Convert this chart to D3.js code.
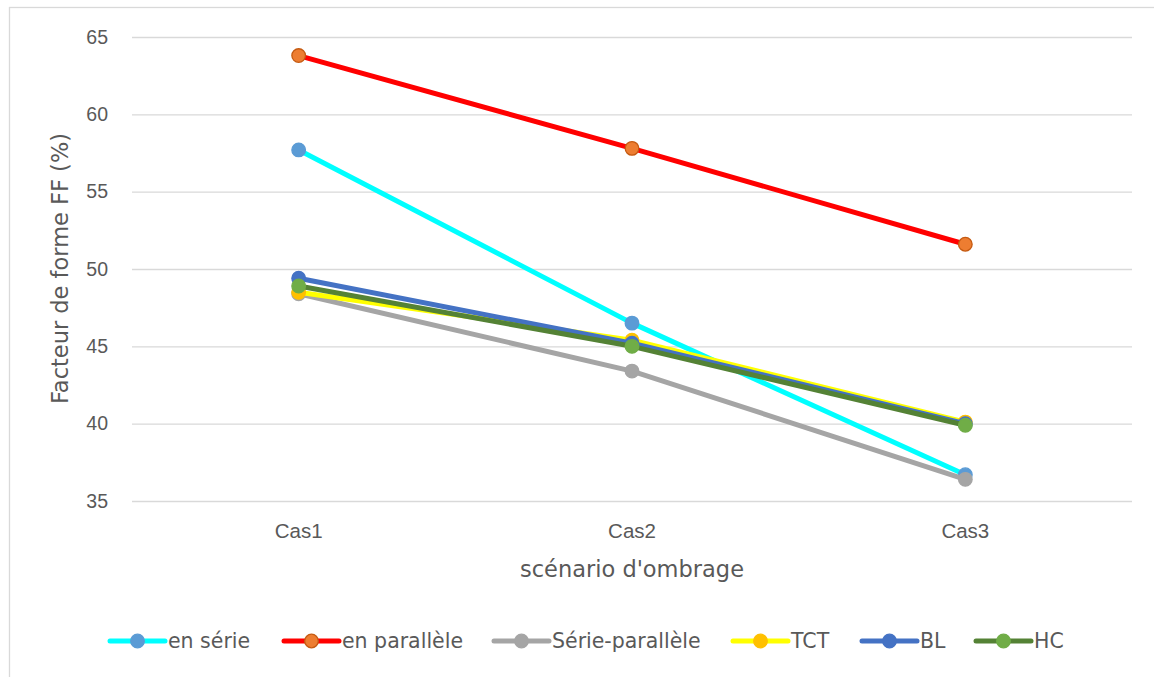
<!DOCTYPE html>
<html>
<head>
<meta charset="utf-8">
<script src="https://cdn.jsdelivr.net/npm/d3@7"></script>
<style>
  html, body { margin: 0; padding: 0; background: #fff; }
  svg { display: block; font-family: "DejaVu Sans", "Noto Sans", sans-serif; }
</style>
</head>
<body>
<svg id="chart" width="1154" height="677"></svg>
<script>
// Scenarios and fill-factor values (%) per array configuration
const categories = ["Cas1", "Cas2", "Cas3"];
const enSerie = [57.7, 46.5, 36.7];
const enParallele = [63.8, 57.8, 51.6];
const serieParallele = [48.4, 43.4, 36.4];
const tct = [48.5, 45.4, 40.1];
const bl = [49.4, 45.2, 40.0];
const hc = [48.9, 45.0, 39.9];
const yTicks = [35, 40, 45, 50, 55, 60, 65];

const seriesNames = ["en série", "en parallèle", "Série-parallèle", "TCT", "BL", "HC"];
const seriesValues = [enSerie, enParallele, serieParallele, tct, bl, hc];
const lineColors = ["#00FFFF", "#FF0000", "#A5A5A5", "#FFFF00", "#4472C4", "#548235"];
const markerFill = ["#5B9BD5", "#ED7D31", "#A5A5A5", "#FFC000", "#4472C4", "#70AD47"];
const markerStroke = ["#5B9BD5", "#C55A11", "#A5A5A5", "#FFC000", "#4472C4", "#70AD47"];

const series = seriesNames.map((name, i) => ({
  name, values: seriesValues[i], line: lineColors[i], fill: markerFill[i], stroke: markerStroke[i]
}));

const svg = d3.select("#chart");
const plot = { left: 132, right: 1132, top: 37, bottom: 501 };
const textColor = "#595959";

// Outer chart frame
svg.append("rect")
  .attr("x", 9.5).attr("y", 7.5)
  .attr("width", 1200).attr("height", 700)
  .attr("fill", "#fff").attr("stroke", "#D9D9D9").attr("stroke-width", 1.3);

const x = d3.scaleBand().domain(categories).range([plot.left, plot.right]).padding(0);
const y = d3.scaleLinear().domain([35, 65]).range([plot.bottom, plot.top]);

// Horizontal gridlines and y tick labels
const yAxis = d3.axisLeft(y).tickValues(yTicks).tickSize(-(plot.right - plot.left)).tickPadding(24);
const gy = svg.append("g").attr("transform", `translate(${plot.left},0)`).call(yAxis);
gy.select(".domain").remove();
gy.selectAll(".tick line").attr("stroke", "#D9D9D9").attr("stroke-width", 1.3);
gy.selectAll(".tick text").attr("fill", textColor).attr("font-size", 19.5);

// Category labels
const xAxis = d3.axisBottom(x).tickSize(0).tickPadding(22);
const gx = svg.append("g").attr("transform", `translate(0,${plot.bottom})`).call(xAxis);
gx.select(".domain").remove();
gx.selectAll(".tick text").attr("fill", textColor).attr("font-size", 20.5);

// Axis titles
svg.append("text")
  .attr("transform", `translate(68,268.5) rotate(-90)`)
  .attr("text-anchor", "middle").attr("fill", textColor).attr("font-size", 22.5)
  .text("Facteur de forme FF (%)");
svg.append("text")
  .attr("x", (plot.left + plot.right) / 2).attr("y", 577)
  .attr("text-anchor", "middle").attr("fill", textColor).attr("font-size", 22.5)
  .text("scénario d'ombrage");

// Series lines and markers
const line = d3.line()
  .x((d, i) => x(categories[i]) + x.bandwidth() / 2)
  .y(d => y(d));

const gs = svg.append("g").selectAll("g").data(series).join("g");
gs.append("path")
  .attr("d", d => line(d.values))
  .attr("fill", "none").attr("stroke", d => d.line)
  .attr("stroke-width", 5).attr("stroke-linejoin", "round").attr("stroke-linecap", "round");
gs.selectAll("circle").data(d => d.values.map((v, i) => ({ v, i, s: d }))).join("circle")
  .attr("cx", d => x(categories[d.i]) + x.bandwidth() / 2)
  .attr("cy", d => y(d.v))
  .attr("r", 6.8)
  .attr("fill", d => d.s.fill).attr("stroke", d => d.s.stroke).attr("stroke-width", 1.3);

// Legend
const legendX = [110, 284, 494, 733, 862, 976];
const legendY = 641;
const lg = svg.append("g").selectAll("g").data(series).join("g")
  .attr("transform", (d, i) => `translate(${legendX[i]},${legendY})`);
lg.append("line").attr("x1", 0).attr("x2", 55).attr("y1", 0).attr("y2", 0)
  .attr("stroke", d => d.line).attr("stroke-width", 5).attr("stroke-linecap", "round");
lg.append("circle").attr("cx", 27.5).attr("cy", 0).attr("r", 6.8)
  .attr("fill", d => d.fill).attr("stroke", d => d.stroke).attr("stroke-width", 1.3);
lg.append("text").attr("x", 58).attr("y", 0).attr("dy", "0.36em")
  .attr("fill", textColor).attr("font-size", 20.5)
  .text(d => d.name);
</script>
</body>
</html>
